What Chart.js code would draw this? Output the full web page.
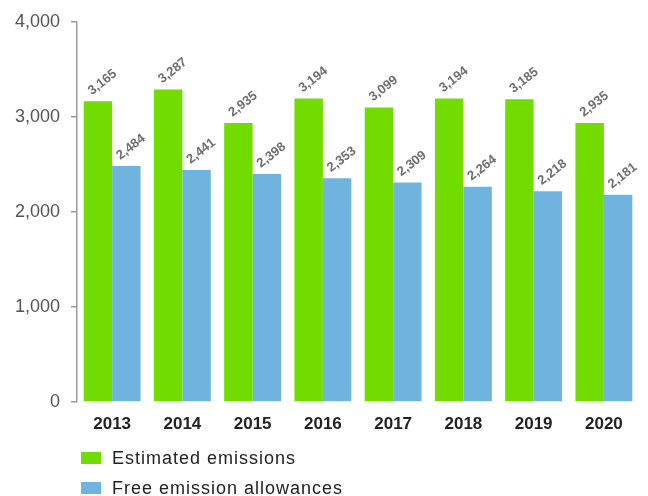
<!DOCTYPE html>
<html>
<head>
<meta charset="utf-8">
<script src="https://cdn.jsdelivr.net/npm/chart.js@4/dist/chart.umd.min.js"></script>
<style>
  html, body { margin: 0; padding: 0; background: #fff; }
  #wrap { position: relative; width: 648px; height: 496px; }
  #legend { position: absolute; left: 81px; top: 443px; font: 18px "Liberation Sans", Arial, sans-serif; color: #222; letter-spacing: 1px; }
  #legend div { height: 30px; display: flex; align-items: center; }
  #legend span.box { display: inline-block; width: 20px; height: 12px; margin-right: 11px; }
</style>
</head>
<body>
<div id="wrap">
  <canvas id="chart" width="648" height="496"></canvas>
  <div id="legend"></div>
</div>
<script>
'use strict';

const years = ['2013', '2014', '2015', '2016', '2017', '2018', '2019', '2020'];
const estimatedEmissions = [3165, 3287, 2935, 3194, 3099, 3194, 3185, 2935];
const freeAllowances = [2484, 2441, 2398, 2353, 2309, 2264, 2218, 2181];
const yTicks = [0, 1000, 2000, 3000, 4000];

const green = '#72dc00';
const blue = '#71b3df';

let canvasElem = document.getElementById('chart');

// little plugin for the slanted value labels above the bars
const barLabels = {
  id: 'barLabels',
  afterDatasetsDraw(chart) {
    const ctx = chart.ctx;
    ctx.save();
    ctx.font = 'bold 13px "Liberation Sans", Arial, sans-serif';
    ctx.fillStyle = '#6e6e6e';
    ctx.textAlign = 'left';
    ctx.textBaseline = 'alphabetic';
    chart.data.datasets.forEach((ds, i) => {
      chart.getDatasetMeta(i).data.forEach((bar, j) => {
        ctx.save();
        ctx.translate(bar.x - 6, bar.y - 6);
        ctx.rotate(-38 * Math.PI / 180);
        ctx.fillText(ds.data[j].toLocaleString('en-US'), 0, 0);
        ctx.restore();
      });
    });
    ctx.restore();
  }
};

function renderChart() {
  const data = {
    labels: years,
    datasets: [
      {
        label: 'Estimated emissions',
        data: estimatedEmissions,
        backgroundColor: green,
        categoryPercentage: 0.81,
        barPercentage: 1,
      },
      {
        label: 'Free emission allowances',
        data: freeAllowances,
        backgroundColor: blue,
        categoryPercentage: 0.81,
        barPercentage: 1,
      },
    ],
  };

  const config = {
    type: 'bar',
    data: data,
    plugins: [barLabels],
    options: {
      responsive: false,
      animation: false,
      layout: { padding: { top: 20, right: 9, bottom: 54, left: 0 } },
      plugins: {
        legend: { display: false },
        tooltip: { enabled: false },
      },
      scales: {
        x: {
          grid: { display: false, drawTicks: false },
          border: { display: false },
          ticks: {
            color: '#222',
            padding: 12,
            font: { family: '"Liberation Sans", Arial, sans-serif', size: 17, weight: 'bold' },
          },
          afterFit: s => { s.height = 40; },
        },
        y: {
          min: 0,
          max: 4000,
          afterBuildTicks: s => { s.ticks = yTicks.map(v => ({ value: v })); },
          grid: { drawOnChartArea: false, tickLength: 6, color: '#999', lineWidth: 1.5 },
          border: { color: '#999', width: 1.5 },
          ticks: {
            color: '#555',
            padding: 11,
            font: { family: '"Liberation Sans", Arial, sans-serif', size: 18 },
            callback: v => v.toLocaleString('en-US'),
          },
          afterFit: s => { s.width = 77; },
        },
      },
    },
  };

  const myChart = new Chart(canvasElem, config);

  const legendElem = document.getElementById('legend');
  myChart.data.datasets.forEach(ds => {
    const row = document.createElement('div');
    row.innerHTML = '<span class="box" style="background:' + ds.backgroundColor + '"></span>' + ds.label;
    legendElem.appendChild(row);
  });
}

renderChart();
</script>
</body>
</html>
